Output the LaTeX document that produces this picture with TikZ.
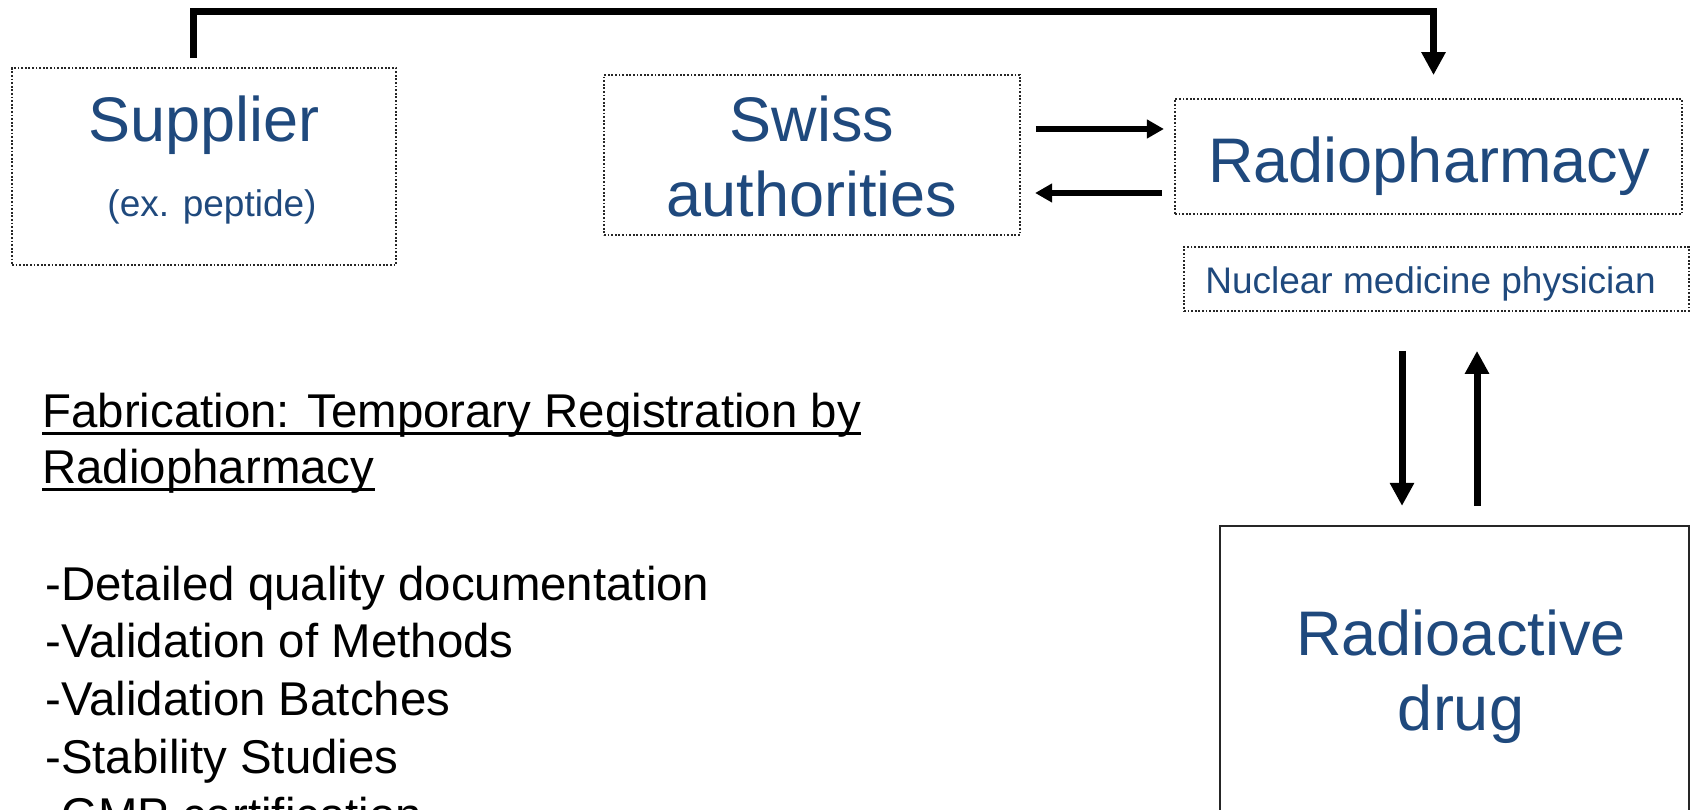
\documentclass[tikz,border=0pt]{standalone}
\usepackage{fontspec}
\setmainfont{Liberation Sans}
\usepackage{tikz}
\usepackage{xcolor}
\usetikzlibrary{arrows.meta, positioning}
\definecolor{pharmblue}{RGB}{31,73,125}

\begin{document}
\begin{tikzpicture}[x=0.5pt, y=0.5pt,
    dotbox/.style={draw=black!85, line width=0.9pt, dash pattern=on 0.9pt off 0.9pt, inner sep=0},
    solidbox/.style={draw=black!85, line width=1.1pt, inner sep=0},
    bigtext/.style={inner sep=0, anchor=base, text=pharmblue, font=\fontsize{31.5}{38}\selectfont},
    smalltext/.style={inner sep=0, anchor=base, text=pharmblue, font=\fontsize{18.5}{22}\selectfont},
    bodytext/.style={inner sep=0, anchor=base west, font=\fontsize{23.7}{28}\selectfont},
    uline/.style={line width=1.5pt},
    flowfat/.style={line width=3.5pt, -{Triangle[width=11.5pt, length=11.5pt]}},
    flowthin/.style={line width=3pt, -{Triangle[width=9pt, length=8.5pt]}}]
    \useasboundingbox (0,0) rectangle (1696,809);
    \clip (0,0) rectangle (1696,809);
    \node[dotbox, minimum width=192pt, minimum height=98.5pt] (sup) at (204, 642.5) {};
    \node[dotbox, minimum width=208pt, minimum height=80pt] (swiss) at (812, 654) {};
    \node[dotbox, minimum width=253.5pt, minimum height=57.5pt] (rph) at (1428.5, 652.5) {};
    \node[dotbox, minimum width=252.5pt, minimum height=32pt] (nmp) at (1436.5, 530) {};
    \node[solidbox, minimum width=234.5pt, minimum height=162pt] (drug) at (1454.5, 121) {};
    \node[bigtext] (suplbl) at (204, 667) {Supplier};
    \node[smalltext] (supnote) at (212, 592) {(ex. peptide)};
    \node[bigtext] (swiss1) at (812, 667) {Swiss};
    \node[bigtext] (swiss2) at (812, 592) {authorities};
    \node[bigtext] (rphlbl) at (1429, 626) {Radiopharmacy};
    \node[smalltext] (nmplbl) at (1430.5, 515) {Nuclear medicine physician};
    \node[bigtext] (drug1) at (1461, 154) {Radioactive};
    \node[bigtext] (drug2) at (1461, 79) {drug};
    \node[bodytext] (head1) at (42, 381) {Fabrication: Temporary Registration by};
    \node[bodytext] (head2) at (42, 325) {Radiopharmacy};
    \node[bodytext] (it1) at (45, 209) {-Detailed quality documentation};
    \node[bodytext] (it2) at (45, 151.5) {-Validation of Methods};
    \node[bodytext] (it3) at (45, 94) {-Validation Batches};
    \node[bodytext] (it4) at (45, 36) {-Stability Studies};
    \node[bodytext] (it5) at (45, -22) {-GMP certification};
    \draw[uline] ([yshift=-2.75pt]head1.base west) -- ([yshift=-2.75pt]head1.base east);
    \draw[uline] ([yshift=-2.75pt]head2.base west) -- ([yshift=-2.75pt]head2.base east);
    \draw[flowfat] ([xshift=-5.5pt, yshift=4.5pt]sup.north) -- ++(0,47) -| ([xshift=2.5pt, yshift=11.5pt]rph.north);
    \draw[flowthin] ([xshift=7.5pt, yshift=13pt]swiss.east) -- ++(128,0);
    \draw[flowthin] ([xshift=-6pt, yshift=-18.25pt]rph.west) -- ++(-127,0);
    \draw[flowfat] ([xshift=-17.25pt, yshift=-19.5pt]nmp.south) -- ++(0,-155);
    \draw[flowfat] ([xshift=11.25pt, yshift=9.5pt]drug.north) -- ++(0,155);
\end{tikzpicture}
\end{document}
